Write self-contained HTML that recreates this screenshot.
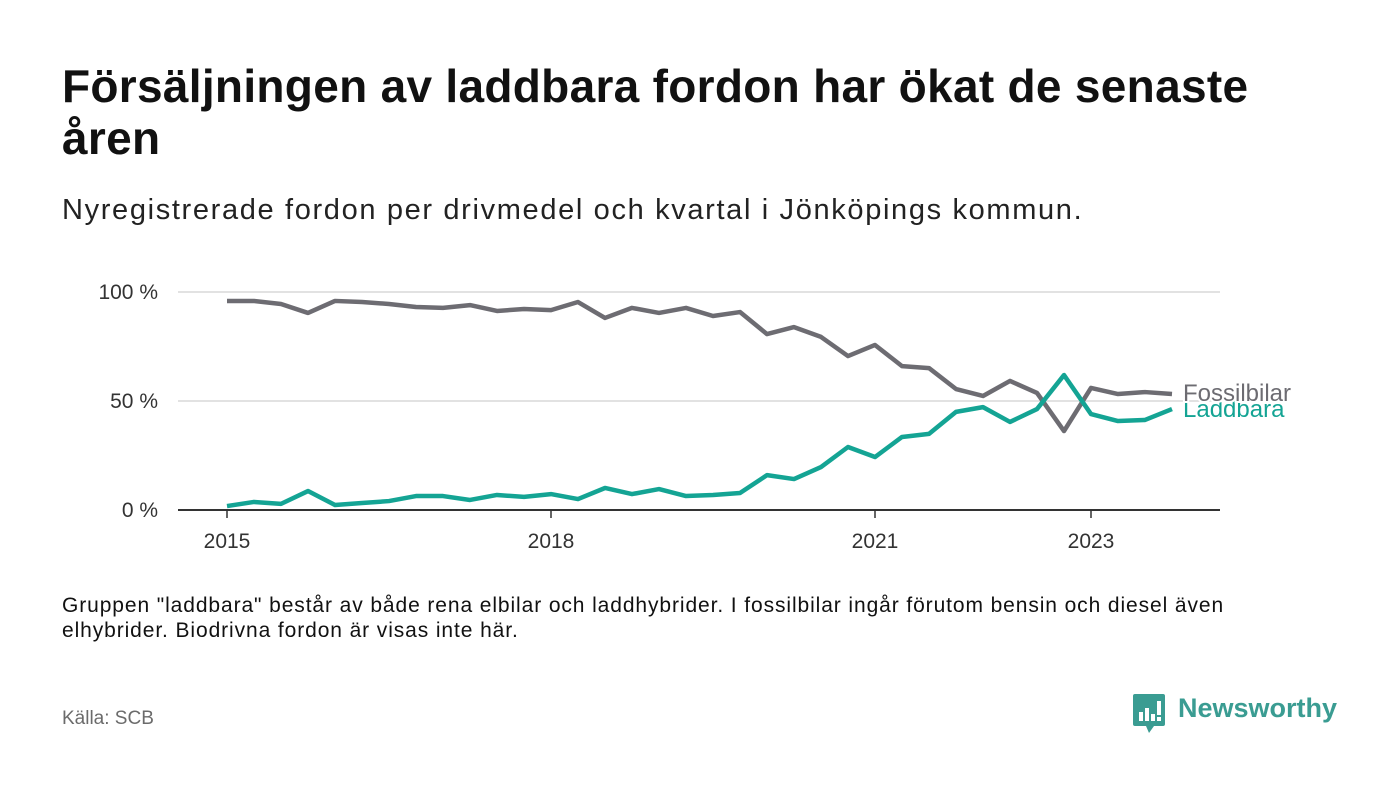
<!DOCTYPE html>
<html><head><meta charset="utf-8"><style>
body{margin:0;background:#fff;width:1400px;height:793px;overflow:hidden;font-family:"Liberation Sans",sans-serif;color:#111}
#title{position:absolute;left:62px;top:60px;width:1260px;font-size:46px;font-weight:bold;line-height:52px;margin:0;color:#111;letter-spacing:0.3px}
#sub{position:absolute;left:62px;top:194px;font-size:29px;letter-spacing:1.65px;color:#222;white-space:nowrap}
#note{position:absolute;left:62px;top:593px;width:1320px;font-size:21px;letter-spacing:0.9px;line-height:25px;color:#111;white-space:nowrap}
#src{position:absolute;left:62px;top:708px;font-size:19px;color:#6b6b6b}
svg{position:absolute;left:0;top:0}
</style></head><body>
<h1 id="title">Försäljningen av laddbara fordon har ökat de senaste åren</h1>
<div id="sub">Nyregistrerade fordon per drivmedel och kvartal i Jönköpings kommun.</div>
<svg id="chart" width="1400" height="793"></svg>
<div id="note">Gruppen "laddbara" består av både rena elbilar och laddhybrider. I fossilbilar ingår förutom bensin och diesel även<br>elhybrider. Biodrivna fordon är visas inte här.</div>
<div id="src">Källa: SCB</div>
<div style="position:absolute;left:1133px;top:694px;height:40px;">
<svg width="34" height="40" style="position:absolute;left:0;top:0">
<path d="M2 0H30Q32 0 32 2V30Q32 32 30 32H21L16 39L13 32H2Q0 32 0 30V2Q0 0 2 0Z" fill="#3a9c92"/>
<rect x="6" y="18" width="4" height="9" fill="#fff"/><rect x="12" y="14" width="4" height="13" fill="#fff"/><rect x="18" y="20" width="4" height="7" fill="#fff"/><rect x="24" y="7" width="4" height="14" fill="#fff"/><rect x="24" y="23" width="4" height="4" fill="#fff"/>
</svg>
<span style="position:absolute;left:45px;top:-1px;font-size:27px;font-weight:bold;color:#3a9c92;white-space:nowrap">Newsworthy</span>
</div>
<script>
const years=["2015","2018","2021","2023"];
const yearIdx=[0,12,24,32];
const yTicks=[0,50,100];
const yTickLabels=["0 %","50 %","100 %"];
const fossil=[95.9,95.9,94.5,90.4,95.9,95.4,94.5,93.1,92.7,94,91.3,92.2,91.7,95.4,88.1,92.7,90.4,92.7,89,90.8,80.7,83.9,79.4,70.6,75.7,66,65.1,55.5,52.3,59.2,53.7,36.2,56,53.2,54.1,53.2];
const laddbara=[1.8,3.7,2.8,8.7,2.3,3.2,4.1,6.4,6.4,4.6,6.9,6,7.3,5,10.1,7.3,9.6,6.4,6.9,7.8,16,14.2,19.7,28.9,24.3,33.5,34.9,45,47.2,40.4,46.3,61.9,44,40.8,41.3,46.3];
const NS="http://www.w3.org/2000/svg";
const svg=document.getElementById('chart');
const x=i=>227+27*i, y=v=>510-2.18*v;
function el(t,a,p){const e=document.createElementNS(NS,t);for(const k in a)e.setAttribute(k,a[k]);(p||svg).appendChild(e);return e;}
yTicks.forEach((v,i)=>{
 const g=el('line',{x1:178,x2:1220,y1:y(v),y2:y(v),stroke:v===0?'#333':'#d9d9d9','stroke-width':v===0?2:1.5});
 
 
 const t=el('text',{x:158,y:y(v)+7,'text-anchor':'end','font-size':21,fill:'#333','font-family':'Liberation Sans, sans-serif'});
 t.textContent=yTickLabels[i];
 
 
});
years.forEach((yr,i)=>{
 const tk=el('line',{x1:x(yearIdx[i]),x2:x(yearIdx[i]),y1:510,y2:518,stroke:'#333','stroke-width':1.5});
 
 
 const t=el('text',{x:x(yearIdx[i]),y:548,'text-anchor':'middle','font-size':21,fill:'#333','font-family':'Liberation Sans, sans-serif'});
 t.textContent=yr;
 
 
});
function line(data,color,name){
 const p=el('polyline',{points:data.map((v,i)=>x(i)+','+y(v)).join(' '),fill:'none',stroke:color,'stroke-width':4.5,'stroke-linejoin':'round'});
 
 
}
line(fossil,'#6d6c72','fossilbilar-line');
line(laddbara,'#14a494','laddbara-line');
const n=laddbara.length-1;
const l2=el('text',{x:1183,y:y(laddbara[n])+8,'font-size':24,fill:'#14a494','font-family':'Liberation Sans, sans-serif'});
l2.textContent='Laddbara';


const l1=el('text',{x:1183,y:y(fossil[n])+7,'font-size':24,fill:'#6d6c72',stroke:'#fff','stroke-width':4,'paint-order':'stroke','font-family':'Liberation Sans, sans-serif'});
l1.textContent='Fossilbilar';


</script>
</body></html>
